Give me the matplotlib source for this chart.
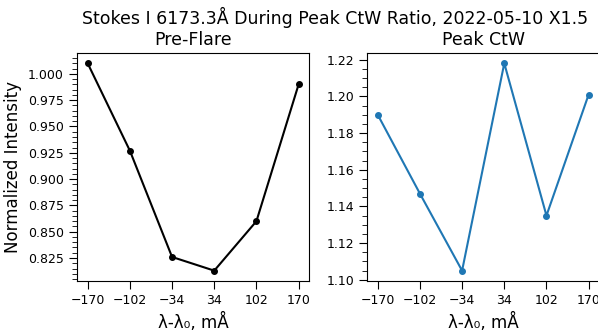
import matplotlib
matplotlib.use("Agg")
import matplotlib.pyplot as plt
from matplotlib.ticker import AutoMinorLocator

# wavelength offsets (mA) and Stokes I values
offsets = [-170, -102, -34, 34, 102, 170]
pre_flare = [1.010, 0.927, 0.826, 0.813, 0.860, 0.990]
peak_ctw = [1.190, 1.147, 1.105, 1.218, 1.135, 1.201]
tick_labels = ["\u2212170", "\u2212102", "\u221234", "34", "102", "170"]

fig = plt.figure(figsize=(5.98, 3.31), dpi=100)
ax1 = fig.add_axes([0.129, 0.151, 0.388, 0.689])
ax2 = fig.add_axes([0.614, 0.151, 0.388, 0.689])

ax1.plot(offsets, pre_flare, "-o", color="black", lw=1.5, ms=4)
ax2.plot(offsets, peak_ctw, "-o", color="tab:blue", lw=1.5, ms=4)

ax1.set_title("Pre-Flare", fontsize=12.5)
ax2.set_title("Peak CtW", fontsize=12.5)
ax1.set_ylabel("Normalized Intensity", fontsize=12)

for ax in (ax1, ax2):
    ax.set_xticks(offsets)
    ax.set_xticklabels(tick_labels)
    ax.set_xlabel("\u03bb-\u03bb\u2080, m\u00c5", fontsize=12)
    ax.yaxis.set_minor_locator(AutoMinorLocator())
    ax.tick_params(axis="both", which="major", labelsize=9, length=6)
    ax.tick_params(axis="y", which="minor", length=3.5)

ax1.set_yticks([0.825, 0.850, 0.875, 0.900, 0.925, 0.950, 0.975, 1.000])
ax1.set_yticklabels(["0.825", "0.850", "0.875", "0.900", "0.925", "0.950", "0.975", "1.000"])

fig.suptitle("Stokes I 6173.3\u00c5 During Peak CtW Ratio, 2022-05-10 X1.5",
             x=0.561, y=0.98, fontsize=12.5)

fig.savefig("out.png", dpi=100)
